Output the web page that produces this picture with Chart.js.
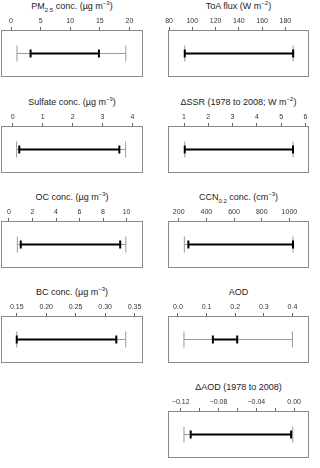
<!DOCTYPE html>
<html>
<head>
<meta charset="utf-8">
<script src="https://cdn.jsdelivr.net/npm/chart.js@4"></script>
<style>
  body { margin: 0; width: 320px; height: 468px; overflow: hidden; background: #fff; position: relative; font-family: "Liberation Sans", Arial, sans-serif; }
  .judul { position: absolute; height: 12px; line-height: 12px; font-size: 9px; color: #222; text-align: center; white-space: nowrap; }
  .judul sub, .judul sup { font-size: 6px; line-height: 0; }
  .panel { position: absolute; }
</style>
</head>
<body>
<script>
// Judul tiap panel (kiri-kanan, atas-bawah)
const titles = [
  "PM<sub>2.5</sub> conc. (µg m<sup>−3</sup>)",
  "ToA flux (W m<sup>−2</sup>)",
  "Sulfate conc. (µg m<sup>−3</sup>)",
  "ΔSSR (1978 to 2008; W m<sup>−2</sup>)",
  "OC conc. (µg m<sup>−3</sup>)",
  "CCN<sub>0.2</sub> conc. (cm<sup>−3</sup>)",
  "BC conc. (µg m<sup>−3</sup>)",
  "AOD",
  "ΔAOD (1978 to 2008)"
];

// Rentang abu-abu (luar) dan hitam (dalam)
const greyLow   = [1.0, 93.5, 0.13, 1.03, 0.71, 241, 0.150, 0.021, -0.1165];
const greyHigh  = [19.4, 186.7, 3.77, 5.49, 9.94, 1026, 0.335, 0.400, -0.0015];
const blackLow  = [3.3, 93.5, 0.22, 1.03, 1.0, 270, 0.150, 0.122, -0.1094];
const blackHigh = [14.85, 186.7, 3.56, 5.49, 9.46, 1026, 0.319, 0.207, -0.0032];

// Batas sumbu x
const axisMin = [-1.7, 79.1, -0.39, 0.34, -0.68, 122.7, 0.1233, -0.0348, -0.1334];
const axisMax = [22.3, 200.3, 4.35, 6.15, 11.4, 1141.6, 0.3643, 0.458, 0.0157];

// Nilai tick dan labelnya
const tickValues = [
  [0, 5, 10, 15, 20],
  [80, 100, 120, 140, 160, 180],
  [0, 1, 2, 3, 4],
  [1, 2, 3, 4, 5, 6],
  [0, 2, 4, 6, 8, 10],
  [200, 400, 600, 800, 1000],
  [0.15, 0.20, 0.25, 0.30, 0.35],
  [0.0, 0.1, 0.2, 0.3, 0.4],
  [-0.12, -0.10, -0.08, -0.06, -0.04, -0.02, 0.00]
];
const tickLabels = [
  ["0", "5", "10", "15", "20"],
  ["80", "100", "120", "140", "160", "180"],
  ["0", "1", "2", "3", "4"],
  ["1", "2", "3", "4", "5", "6"],
  ["0", "2", "4", "6", "8", "10"],
  ["200", "400", "600", "800", "1000"],
  ["0.15", "0.20", "0.25", "0.30", "0.35"],
  ["0.0", "0.1", "0.2", "0.3", "0.4"],
  ["−0.12", "", "−0.08", "", "−0.04", "", "0.00"]
];

// Letak panel: kolom dan baris
const panelCol = [0, 1, 0, 1, 0, 1, 0, 1, 1];
const panelRow = [0, 0, 1, 1, 2, 2, 3, 3, 4];

// Posisi kotak
const colLeft = [1, 168];
const colWidth = [142, 141];
const rowTop = [30, 126, 221, 316, 411];
const boxH = 55;
const scaleH = 14;
const padX = 10;

// Plugin kotak abu-abu di sekeliling area grafik
const boxPlugin = {
  id: "kotak",
  afterDraw(chart) {
    const { ctx, chartArea: a } = chart;
    ctx.save();
    ctx.strokeStyle = "#8a8a8a";
    ctx.lineWidth = 1;
    ctx.strokeRect(Math.round(a.left) + 0.5, Math.round(a.top) + 0.5,
      Math.round(a.right - a.left) - 1, Math.round(a.bottom - a.top) - 1);
    ctx.restore();
  }
};

function buatPanel(i) {
  const col = panelCol[i];
  const left = colLeft[col];
  const w = colWidth[col];
  const top = rowTop[panelRow[i]];

  const judul = document.createElement("div");
  judul.className = "judul";
  judul.style.left = left + "px";
  judul.style.width = w + "px";
  judul.style.top = (top - 30) + "px";
  judul.innerHTML = titles[i];
  document.body.appendChild(judul);

  const wrap = document.createElement("div");
  wrap.className = "panel";
  wrap.style.left = (left - padX) + "px";
  wrap.style.top = (top - scaleH) + "px";
  const canvas = document.createElement("canvas");
  canvas.width = w + padX * 2;
  canvas.height = scaleH + boxH + 1;
  wrap.appendChild(canvas);
  document.body.appendChild(wrap);

  const ticks = tickValues[i];
  const labels = tickLabels[i];

  new Chart(canvas.getContext("2d"), {
    type: "line",
    data: {
      datasets: [
        {
          data: [{ x: blackLow[i], y: 0 }, { x: blackHigh[i], y: 0 }],
          borderColor: "#000",
          borderWidth: 2,
          pointStyle: "line",
          rotation: 90,
          pointRadius: 4,
          pointBorderWidth: 2,
          pointBorderColor: "#000"
        },
        {
          data: [{ x: greyLow[i], y: 0 }, { x: greyHigh[i], y: 0 }],
          borderColor: "#9a9a9a",
          borderWidth: 1,
          pointStyle: "line",
          rotation: 90,
          pointRadius: 8,
          pointBorderWidth: 1,
          pointBorderColor: "#9a9a9a"
        }
      ]
    },
    options: {
      responsive: false,
      animation: false,
      events: [],
      layout: { padding: { left: padX, right: padX, top: 0, bottom: 1 } },
      plugins: { legend: { display: false }, tooltip: { enabled: false } },
      scales: {
        x: {
          type: "linear",
          position: "top",
          min: axisMin[i],
          max: axisMax[i],
          afterFit: s => { s.height = scaleH; },
          afterBuildTicks: s => { s.ticks = ticks.map(v => ({ value: v })); },
          border: { display: false },
          grid: { drawOnChartArea: false, drawTicks: true, tickLength: 3, color: "#666" },
          ticks: {
            autoSkip: false,
            maxRotation: 0,
            padding: 2,
            color: "#333",
            font: { family: "Liberation Sans", size: 7 },
            callback: (v, idx) => labels[idx]
          }
        },
        y: { display: false, min: -1, max: 1 }
      }
    },
    plugins: [boxPlugin]
  });
}

document.addEventListener("DOMContentLoaded", () => {
  for (let i = 0; i < titles.length; i++) buatPanel(i);
});
</script>
</body>
</html>
